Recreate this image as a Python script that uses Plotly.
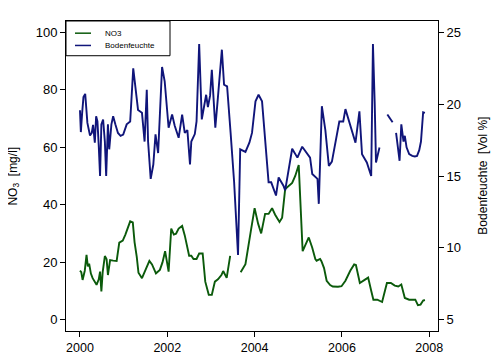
import plotly.graph_objects as go

# NO3 [mg/l] (left axis); None marks a gap in the record
no3_year = [2000.00, 2000.03, 2000.06, 2000.11, 2000.15, 2000.18, 2000.21, 2000.25, 2000.29, 2000.38,
            2000.43, 2000.46, 2000.49, 2000.52, 2000.57, 2000.61, 2000.64, 2000.69, 2000.76, 2000.84,
            2000.90, 2000.98, 2001.04, 2001.10, 2001.15, 2001.21, 2001.25, 2001.30, 2001.34, 2001.42,
            2001.50, 2001.59, 2001.65, 2001.74, 2001.83, 2001.89, 2001.95, 2002.00, 2002.03, 2002.09,
            2002.15, 2002.20, 2002.26, 2002.34, 2002.40, 2002.50, 2002.55, 2002.60, 2002.67, 2002.73,
            2002.81, 2002.87, 2002.95, 2003.02, 2003.09, 2003.16, 2003.24, 2003.28, 2003.36, 2003.44,
            2003.55,
            2003.68, 2003.79, 2003.91, 2004.00, 2004.08, 2004.15, 2004.24, 2004.32, 2004.40, 2004.47,
            2004.57, 2004.63, 2004.70, 2004.78, 2004.86, 2004.93, 2005.01, 2005.10, 2005.17, 2005.24,
            2005.32, 2005.39, 2005.42, 2005.50, 2005.53, 2005.59, 2005.65, 2005.73, 2005.79, 2005.91,
            2005.99, 2006.08, 2006.19, 2006.28, 2006.32, 2006.41, 2006.52, 2006.60, 2006.67, 2006.72,
            2006.81, 2006.92, 2007.03, 2007.12, 2007.21, 2007.29, 2007.36, 2007.44, 2007.54, 2007.61,
            2007.68, 2007.74, 2007.80, 2007.86, 2007.90]
no3_value = [17.0, 16.5, 13.8, 17.0, 22.5, 18.5, 19.5, 16.0, 14.4, 12.1,
             14.0, 16.7, 9.8, 16.5, 22.1, 21.0, 15.5, 20.7, 20.5, 20.4,
             26.8, 27.5, 29.6, 32.5, 34.2, 33.8, 27.0, 21.9, 16.3, 14.4,
             17.3, 20.4, 19.2, 16.1, 17.3, 19.9, 23.8, 20.0, 16.7, 31.7,
             29.6, 29.9, 31.7, 32.6, 29.3, 22.2, 22.2, 21.1, 21.1, 23.0,
             23.0, 13.2, 8.6, 8.6, 13.2, 14.0, 15.5, 16.9, 14.5, 22.2,
             None,
             16.5, 19.3, 30.5, 38.8, 33.4, 30.0, 36.8, 36.8, 38.8, 36.5,
             34.0, 35.5, 45.5, 46.5, 47.6, 50.0, 53.8, 23.8, 26.0, 28.6,
             25.0, 21.1, 20.5, 21.1, 20.3, 17.9, 13.5, 12.0, 11.5, 11.4,
             11.6, 13.5, 17.0, 19.2, 19.0, 12.7, 13.8, 14.6, 10.0, 6.9,
             6.9, 6.1, 12.7, 12.7, 11.8, 11.5, 12.2, 7.5, 6.9, 6.9,
             6.9, 5.0, 5.2, 6.6, 6.8]

# Bodenfeuchte [Vol %] (right axis); None marks a gap
soil_year = [2000.00, 2000.02, 2000.05, 2000.08, 2000.12, 2000.17, 2000.23, 2000.27, 2000.30, 2000.34,
             2000.37, 2000.40, 2000.43, 2000.46, 2000.49, 2000.53, 2000.57, 2000.60, 2000.64, 2000.67,
             2000.72, 2000.76, 2000.81, 2000.87, 2000.93, 2000.99, 2001.07, 2001.15, 2001.22, 2001.33,
             2001.42, 2001.48, 2001.53, 2001.56, 2001.62, 2001.68, 2001.73, 2001.79, 2001.88, 2001.94,
             2002.03, 2002.11, 2002.17, 2002.26, 2002.34, 2002.40, 2002.46, 2002.52, 2002.55, 2002.63,
             2002.67, 2002.73, 2002.79, 2002.89, 2002.93, 2002.98, 2003.02, 2003.10, 2003.16, 2003.25,
             2003.30, 2003.37, 2003.45, 2003.53, 2003.62, 2003.67, 2003.79, 2003.88, 2003.94, 2003.98,
             2004.02, 2004.09, 2004.17, 2004.32, 2004.38, 2004.49, 2004.55, 2004.66, 2004.70, 2004.86,
             2004.98, 2005.09, 2005.19, 2005.27, 2005.32, 2005.44, 2005.47, 2005.50, 2005.54, 2005.62,
             2005.70, 2005.77, 2005.94, 2006.03, 2006.08, 2006.31, 2006.40, 2006.46, 2006.57, 2006.67,
             2006.71, 2006.75, 2006.78, 2006.86, 2006.95,
             2007.04, 2007.16, 2007.20,
             2007.24, 2007.32, 2007.36, 2007.41, 2007.44, 2007.48, 2007.54, 2007.61, 2007.67, 2007.72,
             2007.77, 2007.81, 2007.86, 2007.90]
soil_value = [19.58, 18.06, 19.40, 20.50, 20.72, 18.70, 17.82, 18.00, 18.56, 17.32,
              19.16, 18.80, 17.10, 15.00, 18.60, 18.94, 17.40, 15.00, 18.60, 16.86,
              18.60, 19.16, 18.60, 18.00, 17.80, 17.88, 18.60, 18.80, 22.50, 19.60,
              19.40, 17.40, 21.00, 17.40, 14.80, 15.80, 17.90, 16.60, 22.60, 21.60,
              18.36, 19.28, 18.50, 17.66, 19.28, 18.00, 18.20, 15.80, 17.40, 17.92,
              18.80, 24.20, 18.94, 20.66, 19.80, 20.60, 22.40, 18.36, 20.50, 23.80,
              21.36, 21.24, 18.00, 14.60, 9.50, 16.86, 16.68, 17.32, 18.00, 19.16,
              20.20, 20.66, 20.20, 14.56, 14.56, 13.64, 14.90, 14.32, 14.00, 16.90,
              16.28, 17.04, 16.60, 16.28, 15.14, 14.80, 13.06, 16.00, 19.86, 18.20,
              15.70, 16.00, 18.80, 18.80, 19.66, 17.32, 19.50, 16.52, 15.94, 15.00,
              24.20, 20.08, 15.94, 16.98, None,
              19.28, 18.74, None,
              18.00, 16.06, 18.60, 17.40, 17.80, 17.00, 16.52, 16.40, 16.36, 16.40,
              16.80, 17.40, 19.44, 19.40]

x_ticks = [2000, 2002, 2004, 2006, 2008]
left_ticks = [0, 20, 40, 60, 80, 100]
right_ticks = [5, 10, 15, 20, 25]
series_names = ["NO3", "Bodenfeuchte"]
series_colors = ["#0b5a0b", "#10157a"]

FONT = "Liberation Sans, Arial, sans-serif"

fig = go.Figure()
fig.add_trace(go.Scatter(x=no3_year, y=no3_value, name=series_names[0], mode="lines",
                         line=dict(color=series_colors[0], width=1.9), connectgaps=False, yaxis="y"))
fig.add_trace(go.Scatter(x=soil_year, y=soil_value, name=series_names[1], mode="lines",
                         line=dict(color=series_colors[1], width=1.9), connectgaps=False, yaxis="y2"))


def axis_style(size):
    return dict(showgrid=False, zeroline=False, showline=True, linecolor="black", linewidth=1,
                ticks="outside", ticklen=5, tickwidth=1, tickcolor="black",
                tickfont=dict(family=FONT, size=size, color="black"))


# legend drawn as a framed box in the top-left corner of the plot
leg_x1, leg_y0 = 0.2796, 0.888
leg_rows = [0.9607, 0.9211]
shapes = [dict(type="rect", xref="paper", yref="paper", x0=0, x1=leg_x1, y0=leg_y0, y1=1,
               line=dict(color="black", width=1), fillcolor="white", layer="above")]
annotations = []
for name, color, yy in zip(series_names, series_colors, leg_rows):
    shapes.append(dict(type="line", xref="paper", yref="paper", x0=0.0242, x1=0.0672, y0=yy, y1=yy,
                       line=dict(color=color, width=1.5), layer="above"))
    annotations.append(dict(text=name, xref="paper", yref="paper", x=0.0995, y=yy,
                            xanchor="left", yanchor="middle", showarrow=False,
                            font=dict(family=FONT, size=8, color="black")))

annotations += [
    dict(text="NO<sub>3</sub>  [mg/l]", xref="paper", yref="paper", x=-0.141, y=0.5,
         xanchor="center", yanchor="middle",
         textangle=-90, showarrow=False, font=dict(family=FONT, size=12)),
    dict(text="Bodenfeuchte  [Vol %]", xref="paper", yref="paper", x=1.12, y=0.5,
         xanchor="center", yanchor="middle",
         textangle=-90, showarrow=False, font=dict(family=FONT, size=12)),
]

fig.update_layout(
    width=503, height=359,
    margin=dict(l=58, r=73, t=13, b=33),
    paper_bgcolor="white", plot_bgcolor="white",
    font=dict(family=FONT, size=12, color="black"),
    xaxis=dict(range=[1999.68, 2008.2], tickvals=x_ticks, ticktext=[str(t) for t in x_ticks],
               mirror=True, **axis_style(12.5)),
    yaxis=dict(range=[-4, 104], tickvals=left_ticks, mirror=True, **axis_style(13)),
    yaxis2=dict(range=[4.2, 25.8], tickvals=right_ticks, overlaying="y", side="right",
                **axis_style(13)),
    showlegend=False,
    shapes=shapes,
    annotations=annotations,
)

fig.write_html("out.html")
